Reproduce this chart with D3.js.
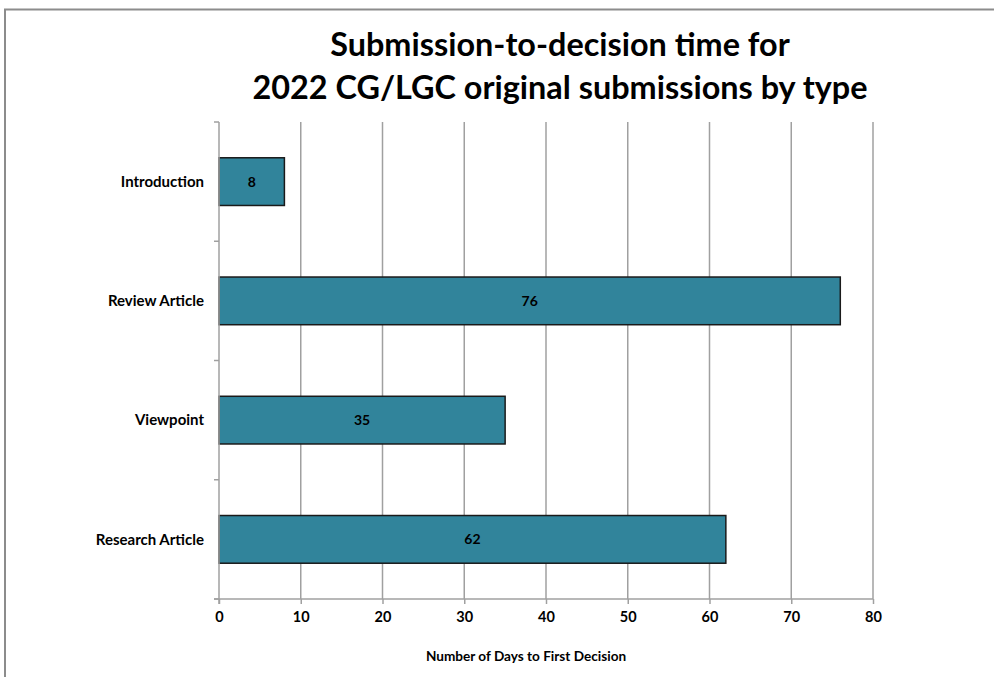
<!DOCTYPE html>
<html><head><meta charset="utf-8">
<script src="https://cdn.jsdelivr.net/npm/d3@7"></script>
<style>body{margin:0;background:#fff}svg{display:block}</style>
</head><body>
<svg id="c" width="994" height="677"></svg>
<script>
const categories = ["Introduction", "Review Article", "Viewpoint", "Research Article"];
const values = [8, 76, 35, 62];
const xTicks = [0, 10, 20, 30, 40, 50, 60, 70, 80];
const titleLines = ["Submission-to-decision time for", "2022 CG/LGC original submissions by type"];
const xTitle = "Number of Days to First Decision";

const svg = d3.select("#c");
const font = "Lato, 'Open Sans', sans-serif";
const L = 219, R = 873, T = 122, B = 599;

// frame
svg.append("path").attr("d", "M5,677 L5,9.5 L994,9.5").attr("fill", "none").attr("stroke", "#8c8c8c").attr("stroke-width", 2);

const x = d3.scaleLinear().domain([0, 80]).range([L, R]);
const y = d3.scaleBand().domain(categories).range([T, B]).paddingInner(0.6).paddingOuter(0.3);
const yb = d3.scaleBand().domain(categories).range([T, B]);

// gridlines
svg.append("g").selectAll("line").data(xTicks.slice(1)).join("line")
  .attr("x1", d => x(d)).attr("x2", d => x(d)).attr("y1", T).attr("y2", B)
  .attr("stroke", "#a0a0a0").attr("stroke-width", 1.5);

// bars
svg.append("g").selectAll("rect").data(values).join("rect")
  .attr("x", x(0)).attr("y", (d, i) => y(categories[i]))
  .attr("width", d => x(d) - x(0)).attr("height", y.bandwidth())
  .attr("fill", "#31849b").attr("stroke", "#1a1a1a").attr("stroke-width", 1.5);

svg.append("g").selectAll("text").data(values).join("text")
  .attr("x", d => (x(0) + x(d)) / 2).attr("y", (d, i) => y(categories[i]) + y.bandwidth() / 2)
  .attr("dy", "0.35em").attr("text-anchor", "middle")
  .attr("font-family", font).attr("font-weight", "bold").attr("font-size", 14).attr("fill", "#000")
  .text(d => d);

// x axis
const xa = svg.append("g").attr("transform", `translate(0,${B})`)
  .call(d3.axisBottom(x).tickValues(xTicks).tickSize(5).tickSizeOuter(0).tickPadding(8));
xa.select(".domain").attr("stroke", "#a0a0a0").attr("stroke-width", 1.5).attr("d", `M${L-5},0H${R}`);
xa.selectAll(".tick line").attr("stroke", "#a0a0a0").attr("stroke-width", 1.5);
xa.selectAll("text").attr("font-family", font).attr("font-weight", "bold").attr("font-size", 14.5).attr("fill", "#000");

// y axis
svg.append("line").attr("x1", L).attr("x2", L).attr("y1", T).attr("y2", B + 5).attr("stroke", "#a0a0a0").attr("stroke-width", 1.5);
const yTickPos = categories.map(c => yb(c)).concat([B]);
svg.append("g").selectAll("line").data(yTickPos).join("line")
  .attr("x1", L - 5).attr("x2", L).attr("y1", d => d).attr("y2", d => d)
  .attr("stroke", "#a0a0a0").attr("stroke-width", 1.5);
svg.append("g").selectAll("text").data(categories).join("text")
  .attr("x", 204).attr("y", d => yb(d) + yb.bandwidth() / 2).attr("dy", "0.35em")
  .attr("text-anchor", "end").attr("font-family", font).attr("font-weight", "bold").attr("font-size", 15).attr("fill", "#000")
  .text(d => d);

// titles
svg.append("g").selectAll("text").data(titleLines).join("text")
  .attr("x", 560).attr("y", (d, i) => 56 + i * 43).attr("text-anchor", "middle")
  .attr("font-family", font).attr("font-weight", "bold").attr("font-size", 32.4).attr("fill", "#000")
  .text(d => d);

svg.append("text").attr("x", 526).attr("y", 661).attr("text-anchor", "middle")
  .attr("font-family", font).attr("font-weight", "bold").attr("font-size", 13.6).attr("fill", "#000")
  .text(xTitle);
</script>
</body></html>
